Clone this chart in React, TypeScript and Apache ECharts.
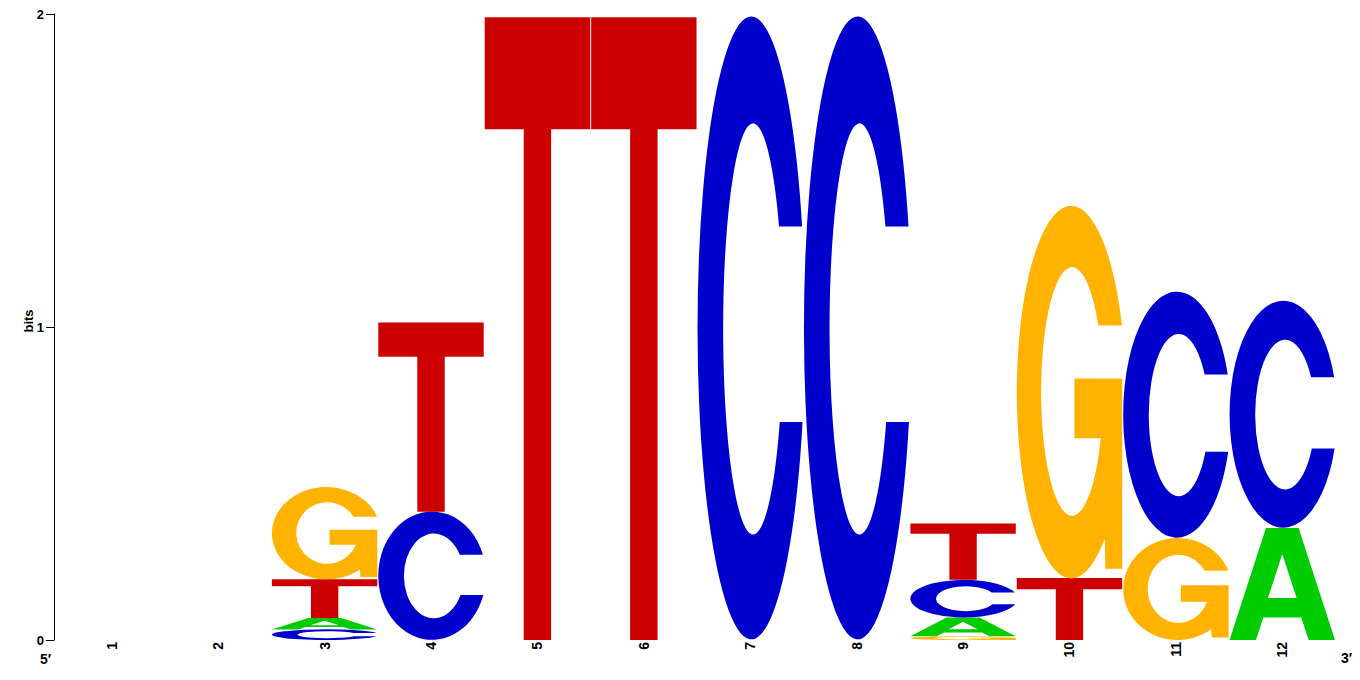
import { useEffect, useRef } from 'react'
import * as echarts from 'echarts'

// information content (bits) per letter, per position
const positions = ['1', '2', '3', '4', '5', '6', '7', '8', '9', '10', '11', '12']
const heightA = [0, 0, 0.036, 0, 0, 0, 0, 0, 0.06, 0, 0, 0.358]
const heightC = [0, 0, 0.034, 0.41, 0, 0, 1.99, 1.99, 0.12, 0, 0.786, 0.725]
const heightG = [0, 0, 0.295, 0, 0, 0, 0, 0, 0.012, 1.19, 0.326, 0]
const heightT = [0, 0, 0.124, 0.604, 1.99, 1.99, 0, 0, 0.18, 0.198, 0, 0]
const yTicks = [0, 1, 2]

const letters = ['A', 'C', 'G', 'T']
const letterColors = ['#00CC00', '#0000CC', '#FFB300', '#CC0000']

// glyph outlines in a 100 x 100 box, stretched to fill each stack slot
const glyphPaths: Record<string, string> = {
  A: 'M0 100 L34.5 0 L65.5 0 L100 100 L75 100 L68 79.8 L32 79.8 L25 100 Z M36.4 62.5 L63.6 62.5 L50 23.2 Z',
  C: 'M99.2 33.6 A51 50 0 1 0 99.6 65 L78 65 A28.4 33 0 1 1 77.3 33.6 Z',
  G: 'M99.8 32.2 A51.6 50 0 1 0 83.5 89.4 L84 97.5 L100 97.5 L100 46.4 L54.7 46.4 L54.7 62.5 L79.7 62.5 A29.4 33.4 0 1 1 77.4 32.2 Z',
  T: 'M0 0 L100 0 L100 18 L63 18 L63 100 L37 100 L37 18 L0 18 Z',
}

const font = '"Liberation Sans", Arial, Helvetica, sans-serif'

function buildStacks() {
  const heights = [heightA, heightC, heightG, heightT]
  const items: number[][] = []
  positions.forEach((_, i) => {
    const col = letters
      .map((_, li) => ({ li, h: heights[li][i] }))
      .filter((d) => d.h > 0)
      .sort((a, b) => a.h - b.h)
    let base = 0
    col.forEach((d) => {
      items.push([i, base, base + d.h, d.li])
      base += d.h
    })
  })
  return items
}

export default function App() {
  const chartRef = useRef<HTMLDivElement>(null)

  useEffect(() => {
    if (!chartRef.current) return
    const chart = echarts.init(chartRef.current, null, { renderer: 'svg' })

    chart.setOption({
      animation: false,
      grid: { left: 58.6, right: 24.5, top: 14, bottom: 40, outerBoundsMode: 'none' },
      xAxis: {
        type: 'category',
        data: positions,
        boundaryGap: true,
        axisLine: { show: false },
        axisTick: { show: false },
        axisLabel: {
          rotate: 90,
          margin: 2,
          color: '#000',
          fontFamily: font,
          fontWeight: 'bold',
          fontSize: 14,
        },
      },
      yAxis: {
        type: 'value',
        min: yTicks[0],
        max: yTicks[yTicks.length - 1],
        interval: 1,
        offset: 4.6,
        splitLine: { show: false },
        axisLine: { show: true, lineStyle: { color: '#000', width: 1 } },
        axisTick: { show: true, length: 8, lineStyle: { color: '#000' } },
        axisLabel: {
          margin: 10,
          color: '#000',
          fontFamily: font,
          fontWeight: 'bold',
          fontSize: 13,
        },
      },
      graphic: [
        {
          type: 'text',
          x: 28,
          y: 321,
          rotation: Math.PI / 2,
          style: {
            text: 'bits',
            fill: '#000',
            font: `bold 13px ${font}`,
            align: 'center',
            verticalAlign: 'middle',
          },
        },
        {
          type: 'text',
          x: 40,
          y: 659,
          style: { text: '5\u2032', fill: '#000', font: `bold 14px ${font}`, verticalAlign: 'middle' },
        },
        {
          type: 'text',
          x: 1341,
          y: 658,
          style: { text: '3\u2032', fill: '#000', font: `bold 14px ${font}`, verticalAlign: 'middle' },
        },
      ],
      series: [
        {
          type: 'custom',
          encode: { x: 0, y: [1, 2] },
          data: buildStacks(),
          renderItem: (_params: any, api: any) => {
            const idx = api.value(0)
            const bottom = api.coord([idx, api.value(1)])
            const top = api.coord([idx, api.value(2)])
            const li = api.value(3)
            const w = api.size([1, 0])[0] - 1
            const h = bottom[1] - top[1]
            return {
              type: 'path',
              x: bottom[0] - w / 2,
              y: top[1],
              scaleX: w / 100,
              scaleY: h / 100,
              shape: { pathData: glyphPaths[letters[li]] },
              style: { fill: letterColors[li] },
            }
          },
        },
      ],
    })

    return () => {
      chart.dispose()
    }
  }, [])

  return (
    <div
      ref={chartRef}
      style={{ position: 'fixed', left: 0, top: 0, width: '1360px', height: '680px', background: '#fff' }}
    ></div>
  )
}
